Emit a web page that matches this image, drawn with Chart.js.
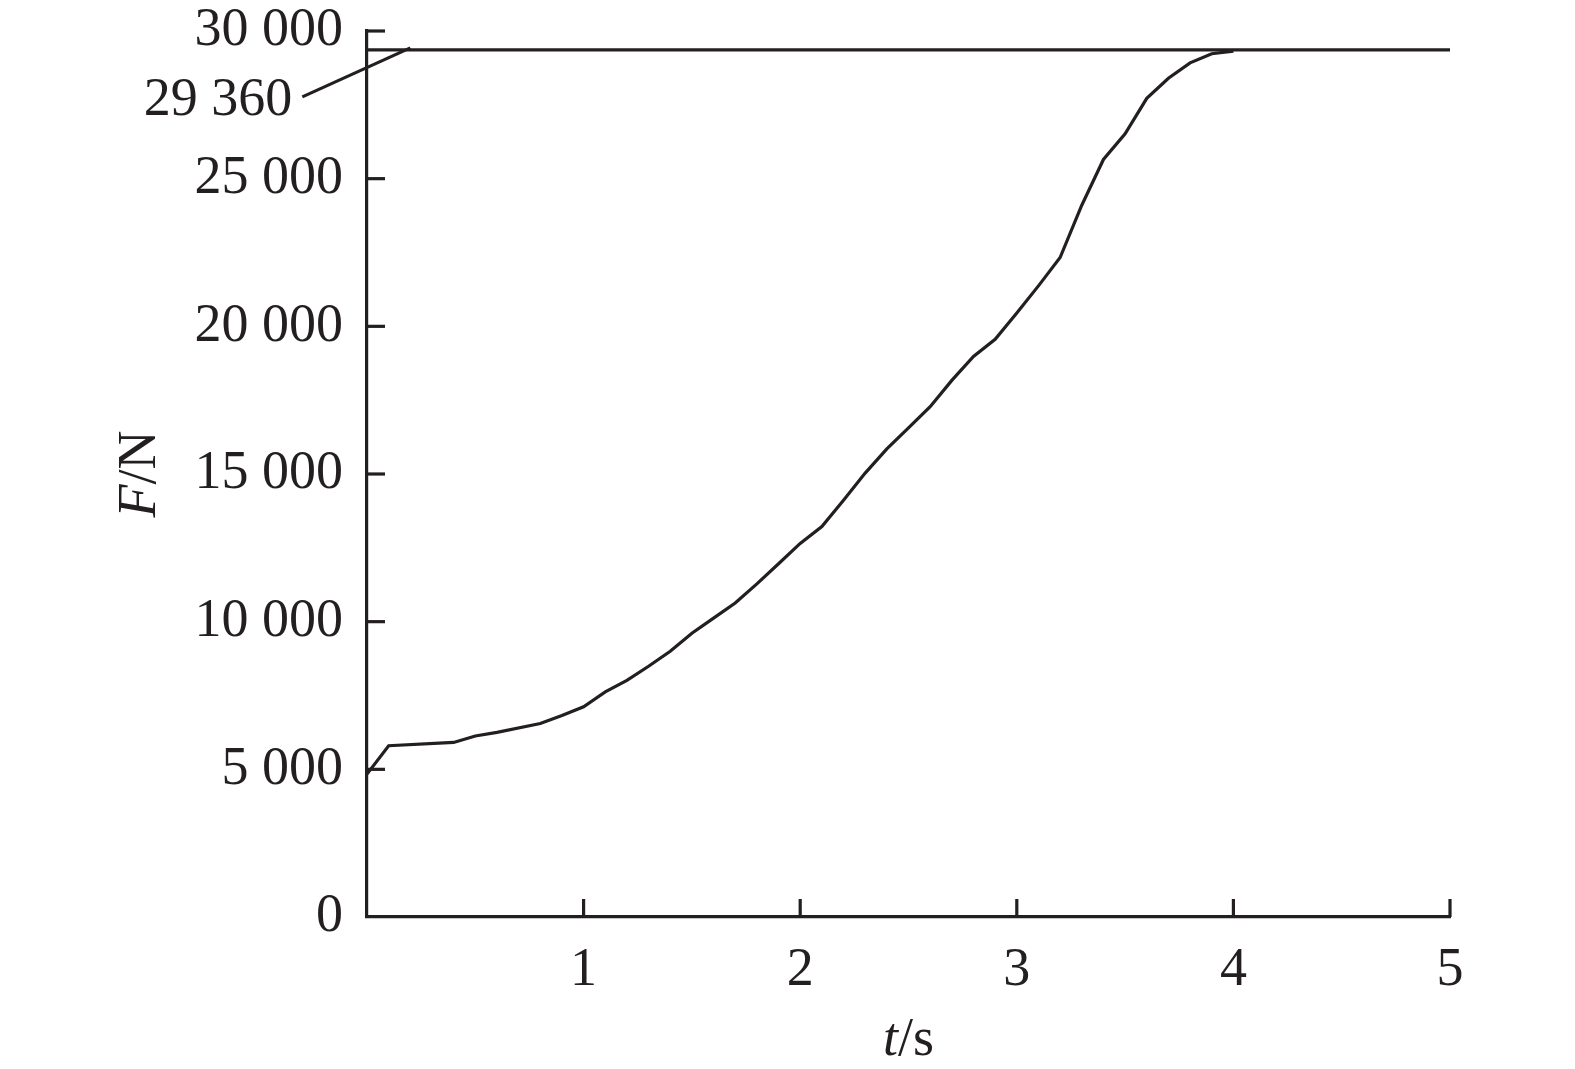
<!DOCTYPE html>
<html>
<head>
<meta charset="utf-8">
<script src="https://cdn.jsdelivr.net/npm/chart.js@4.4.1/dist/chart.umd.min.js"></script>
<style>
  html, body { margin: 0; padding: 0; background: #fff; }
</style>
</head>
<body>
<canvas id="grafik" width="1575" height="1069"></canvas>
<script>
// Data kurva gaya terhadap waktu.
const waktu = [0, 0.1, 0.4, 0.5, 0.6, 0.8, 0.9, 1.0, 1.1, 1.2, 1.3, 1.4, 1.5, 1.6, 1.7, 1.8, 1.9, 2.0,
  2.1, 2.2, 2.3, 2.4, 2.5, 2.6, 2.7, 2.8, 2.9, 3.0, 3.1, 3.2, 3.3, 3.4, 3.5, 3.6, 3.7, 3.8, 3.9, 4.0];
const gaya = [4840, 5800, 5910, 6130, 6250, 6550, 6820, 7120, 7620, 8010, 8490, 9000, 9610, 10120, 10630,
  11280, 11960, 12650, 13220, 14110, 15030, 15850, 16560, 17280, 18170, 18980, 19560, 20450, 21370,
  22330, 24100, 25650, 26520, 27720, 28400, 28920, 29230, 29320];

// Garis batas gaya maksimum.
const waktuBatas = [0, 5];
const gayaBatas = [29360, 29360];
const teksBatas = '29 360';

// Label sumbu.
const tickX = [1, 2, 3, 4, 5];
const tickY = [0, 5000, 10000, 15000, 20000, 25000, 30000];

const WARNA = '#231f20';
const FONT = '"Liberation Serif", "Times New Roman", serif';
const UKURAN = 54;
const TEBAL = 3.2;

const formatRibuan = v => String(v).replace(/\B(?=(\d{3})+(?!\d))/g, ' ');

// Plugin untuk tanda sumbu ke dalam, judul sumbu dan keterangan 29 360.
const pluginSumbu = {
  id: 'sumbu',
  afterDraw(chart) {
    const { ctx, scales: { x, y } } = chart;
    const garis = (x1, y1, x2, y2) => { ctx.beginPath(); ctx.moveTo(x1, y1); ctx.lineTo(x2, y2); ctx.stroke(); };
    ctx.save();
    ctx.strokeStyle = WARNA;
    ctx.fillStyle = WARNA;
    ctx.lineWidth = TEBAL;

    y.ticks.forEach(t => {
      if (t.value === 0) return;
      const py = y.getPixelForValue(t.value);
      garis(x.left, py, x.left + 18, py);
    });
    x.ticks.forEach(t => {
      const px = x.getPixelForValue(t.value);
      garis(px, y.bottom, px, y.bottom - 18);
    });

    // Garis penunjuk dan teks 29 360
    const ux = x.getPixelForValue(0.2), uy = y.getPixelForValue(gayaBatas[0]);
    garis(ux, uy - 2, ux - 108, uy + 47);
    ctx.font = `${UKURAN}px ${FONT}`;
    ctx.textAlign = 'right';
    ctx.textBaseline = 'middle';
    ctx.fillText(teksBatas, ux - 118, uy + 51);

    // Judul sumbu dengan huruf variabel miring
    const tulisJudul = (miring, tegak, cx, cy, putar) => {
      ctx.save();
      ctx.translate(cx, cy);
      if (putar) ctx.rotate(-Math.PI / 2);
      ctx.textAlign = 'left';
      ctx.textBaseline = 'middle';
      ctx.font = `italic ${UKURAN}px ${FONT}`;
      const w1 = ctx.measureText(miring).width;
      ctx.font = `${UKURAN}px ${FONT}`;
      const w2 = ctx.measureText(tegak).width;
      const mulai = -(w1 + w2) / 2;
      ctx.font = `italic ${UKURAN}px ${FONT}`;
      ctx.fillText(miring, mulai, 0);
      ctx.font = `${UKURAN}px ${FONT}`;
      ctx.fillText(tegak, mulai + w1, 0);
      ctx.restore();
    };
    tulisJudul('F', '/N', 141, (y.top + y.bottom) / 2, true);
    tulisJudul('t', '/s', (x.left + x.right) / 2, 1041, false);
    ctx.restore();
  }
};

new Chart(document.getElementById('grafik'), {
  type: 'line',
  data: {
    datasets: [
      {
        data: waktu.map((t, i) => ({ x: t, y: gaya[i] })),
        borderColor: WARNA, borderWidth: TEBAL, pointRadius: 0, tension: 0
      },
      {
        data: waktuBatas.map((t, i) => ({ x: t, y: gayaBatas[i] })),
        borderColor: WARNA, borderWidth: TEBAL, pointRadius: 0, tension: 0
      }
    ]
  },
  options: {
    responsive: false,
    animation: false,
    layout: { padding: { top: 31, right: 125, left: 0, bottom: 0 } },
    plugins: { legend: { display: false }, tooltip: { enabled: false } },
    scales: {
      x: {
        type: 'linear', min: 0, max: 5,
        afterBuildTicks: s => { s.ticks = tickX.map(v => ({ value: v })); },
        afterFit: s => { s.height = 152; s.paddingLeft = 0; s.paddingRight = 0; },
        grid: { drawOnChartArea: false, drawTicks: false },
        border: { color: WARNA, width: TEBAL },
        ticks: { color: WARNA, padding: 27, maxRotation: 0, font: { family: FONT, size: UKURAN, lineHeight: 1 } }
      },
      y: {
        type: 'linear', min: 0, max: 30000,
        afterBuildTicks: s => { s.ticks = tickY.map(v => ({ value: v })); },
        afterFit: s => { s.width = 367; s.paddingTop = 0; s.paddingBottom = 0; },
        grid: { drawOnChartArea: false, drawTicks: false },
        border: { color: WARNA, width: TEBAL },
        ticks: { color: WARNA, padding: 24, font: { family: FONT, size: UKURAN, lineHeight: 1 }, callback: v => formatRibuan(v) }
      }
    }
  },
  plugins: [pluginSumbu]
});
</script>
</body>
</html>
